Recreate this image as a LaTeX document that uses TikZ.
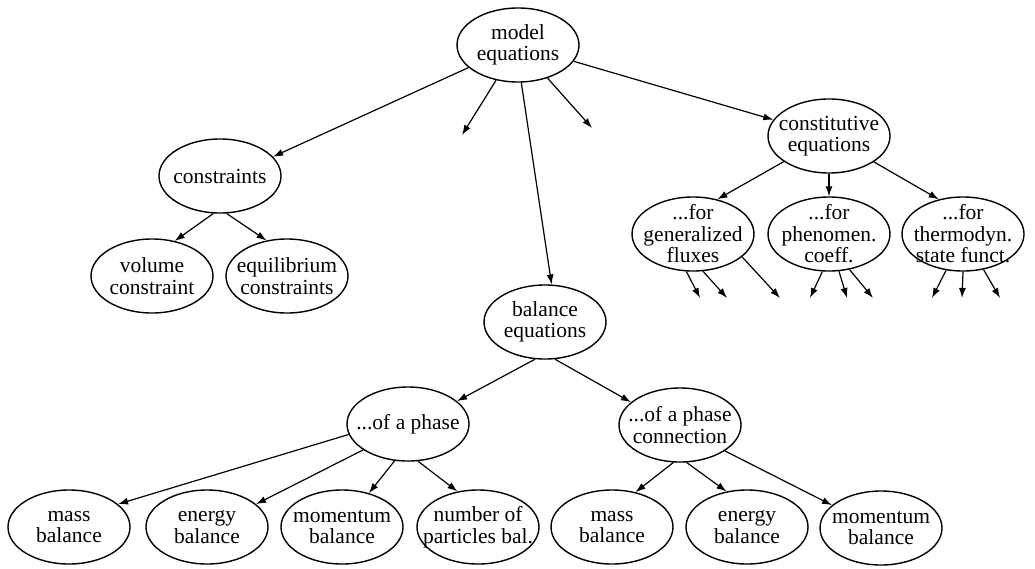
\documentclass[tikz,border=0pt]{standalone}
\usepackage{fontspec}
\setmainfont{Liberation Serif}
\usetikzlibrary{shapes.geometric,arrows.meta}
\begin{document}
\begin{tikzpicture}[x=1pt,y=-1pt,
  el/.style={ellipse,draw,line width=1.4pt,minimum width=122pt,minimum height=74pt,inner sep=0pt},
  txt/.style={align=center,inner sep=0pt,font=\fontsize{21.5}{21.5}\selectfont},
  arr/.style={-{Latex[length=10pt,width=7pt]},line width=1.2pt}]
\useasboundingbox (0,0) rectangle (1035,568);

% top level
\node[el,label={[txt]center:{model\\equations}}] (model) at (518,45) {};
\node[el,label={[txt]center:{constraints}}] (cons) at (220,176) {};
\node[el,label={[txt]center:{constitutive\\equations}}] (const) at (829,136) {};
\node[el,label={[txt]center:{balance\\equations}}] (bal) at (545,322) {};

% constraints
\node[el,label={[txt]center:{volume\\constraint}}] (vol) at (152,276) {};
\node[el,label={[txt]center:{equilibrium\\constraints}}] (equ) at (287,276) {};

% constitutive equations
\node[el,label={[txt]center:{...for\\generalized\\fluxes}}] (gen) at (693,234) {};
\node[el,label={[txt]center:{...for\\phenomen.\\coeff.}}] (phen) at (829,234) {};
\node[el,label={[txt]center:{...for\\thermodyn.\\state funct.}}] (thermo) at (963,234) {};

% balance equations
\node[el,label={[txt]center:{...of a phase}}] (ph) at (408,424) {};
\node[el,label={[txt]center:{...of a phase\\connection}}] (conn) at (680,425) {};

\node[el,label={[txt]center:{mass\\balance}}] (m1) at (69,527) {};
\node[el,label={[txt]center:{energy\\balance}}] (e1) at (207,527) {};
\node[el,label={[txt]center:{momentum\\balance}}] (mo1) at (342,527) {};
\node[el,label={[txt]center:{number of\\particles bal.}}] (np) at (478,527) {};
\node[el,label={[txt]center:{mass\\balance}}] (m2) at (612,527) {};
\node[el,label={[txt]center:{energy\\balance}}] (e2) at (747,527) {};
\node[el,label={[txt]center:{momentum\\balance}}] (mo2) at (881,528) {};

% free ends of open arrows
\coordinate (d1) at (462,135);
\coordinate (d2) at (592,128);
\coordinate (g1) at (700,298);
\coordinate (g2) at (727,298);
\coordinate (g3) at (780,298);
\coordinate (p1) at (810,298);
\coordinate (p2) at (847,298);
\coordinate (p3) at (873,298);
\coordinate (t1) at (932,298);
\coordinate (t2) at (962,298);
\coordinate (t3) at (1000,298);

% connectors
\draw[arr] (model) -- (cons.20);
\draw[arr] (model) -- (d1);
\draw[arr] (model.-85) -- (bal.80);
\draw[arr] (model) -- (d2);
\draw[arr] (model) -- (const);

\draw[arr] (cons.-100) -- (vol.57);
\draw[arr] (cons.-80) -- (equ.120);

\draw[arr] (const) -- (gen.55);
\draw[arr] (const) -- (phen);
\draw[arr] (const) -- (thermo.125);

\draw[arr] (gen.-100) -- (g1);
\draw[arr] (gen.-75) -- (g2);
\draw[arr] (gen.-25) -- (g3);
\draw[arr] (phen.-100) -- (p1);
\draw[arr] (phen.-75) -- (p2);
\draw[arr] (phen.-60) -- (p3);
\draw[arr] (thermo.-115) -- (t1);
\draw[arr] (thermo.-90) -- (t2);
\draw[arr] (thermo.-60) -- (t3);

\draw[arr] (bal.-105) -- (ph.25);
\draw[arr] (bal.-75) -- (conn.155);

\draw[arr] (ph.190) -- (m1.25);
\draw[arr] (ph.210) -- (e1.25);
\draw[arr] (ph.-110) -- (mo1);
\draw[arr] (ph.-75) -- (np.120);

\draw[arr] (conn.-100) -- (m2.56);
\draw[arr] (conn.-80) -- (e2.120);
\draw[arr] (conn.-30) -- (mo2.155);
\end{tikzpicture}
\end{document}
